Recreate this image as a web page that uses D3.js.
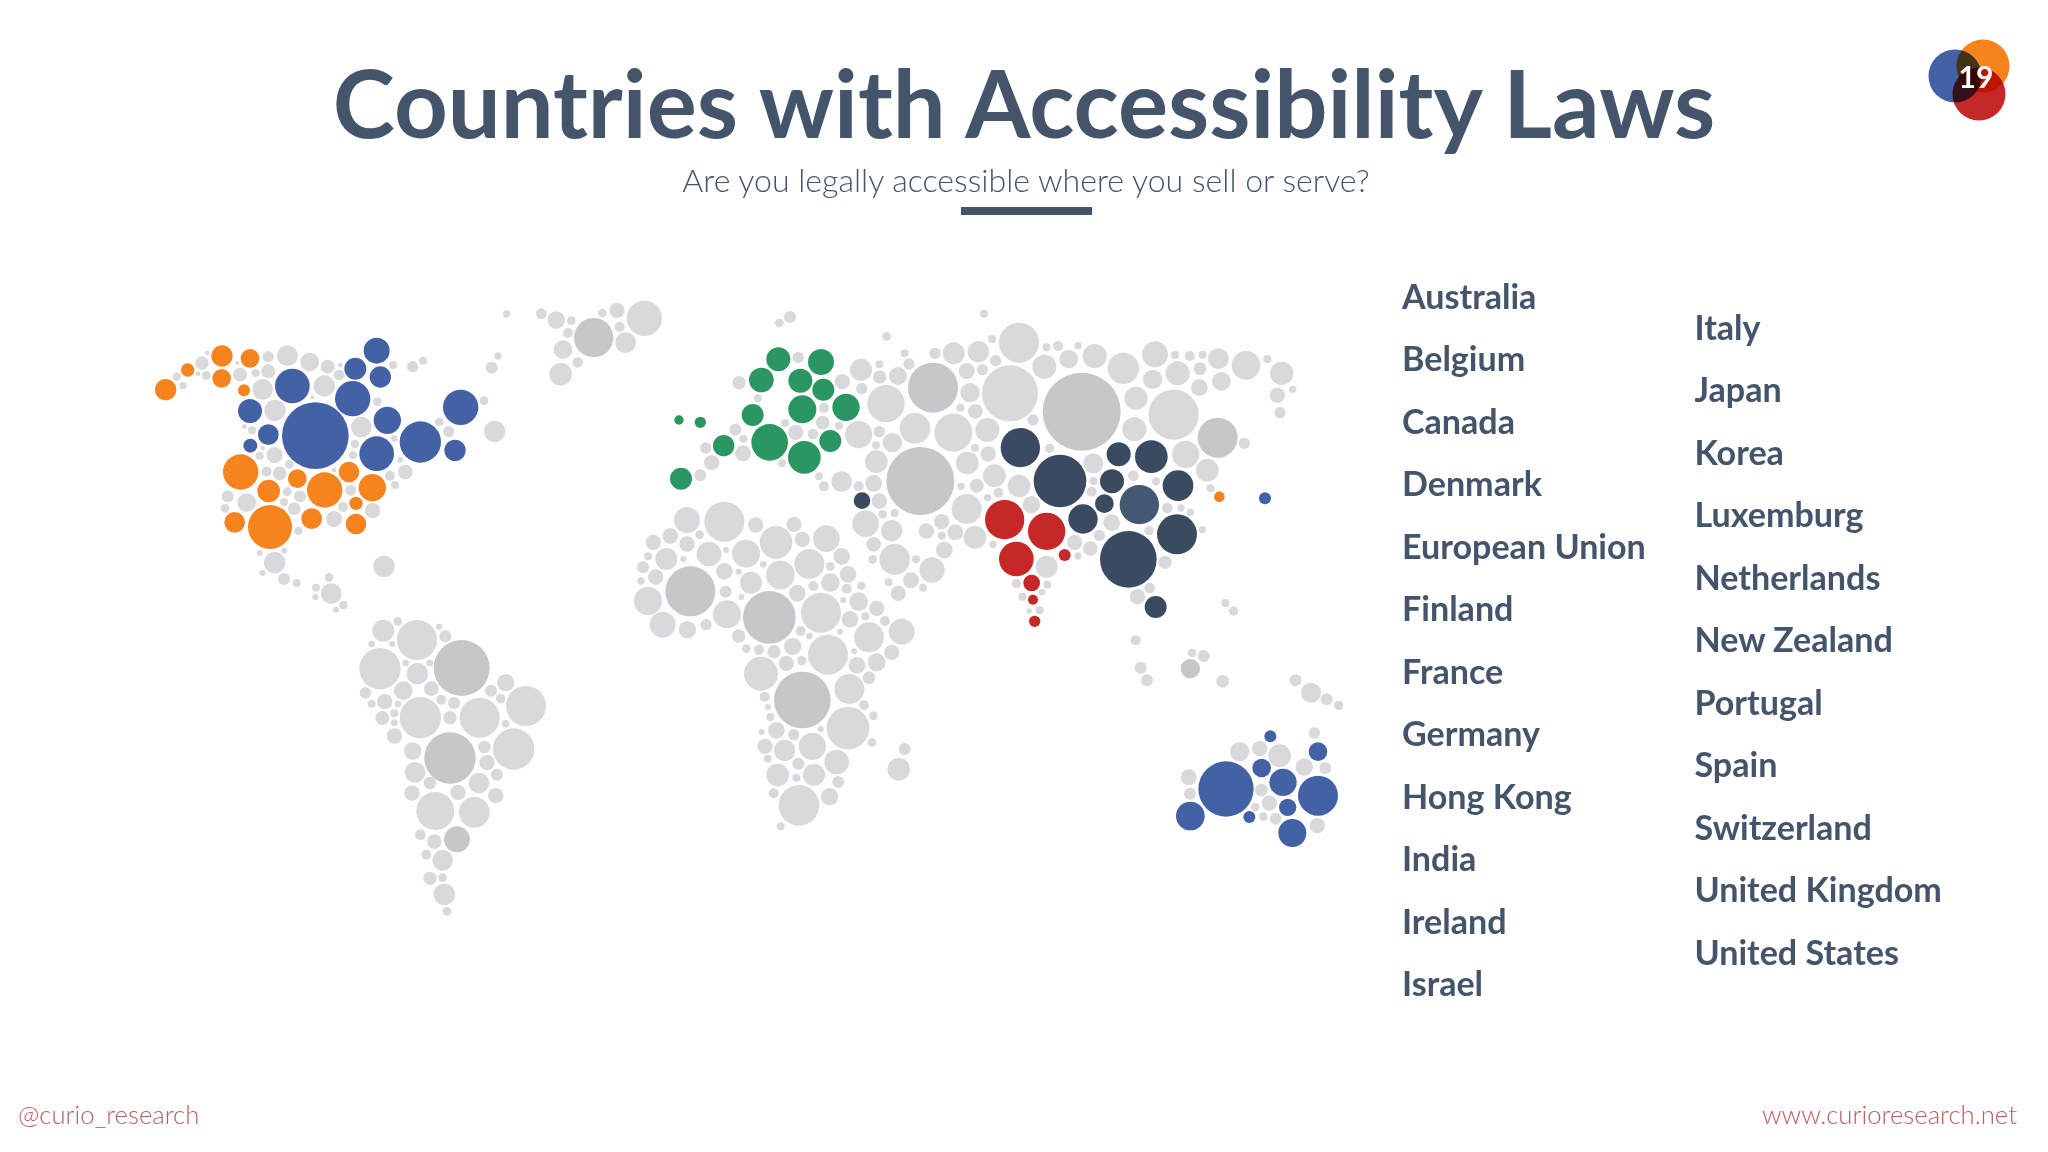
<!DOCTYPE html>
<html>
<head>
<meta charset="utf-8">
<title>Countries with Accessibility Laws</title>
<script src="https://cdn.jsdelivr.net/npm/d3@7"></script>
<style>
html, body { margin: 0; padding: 0; background: #fff; }
svg { display: block; }
text { font-family: Lato, "Open Sans", sans-serif; }
</style>
</head>
<body>
<script>
// bubble values are [x, y, size] in map units, one set of arrays per part of the world
var naOrange = [[107,329,32],[173,270,20],[276,228,32],[360,235,28],[275,295,28],[342,331,18],[332,576,53],[416,633,34],[502,596,28],[584,630,53],[657,576,31],[727,623,41],[678,670,20],[420,741,66],[314,727,31],[545,716,31],[678,732,31]];
var naBlue = [[556,467,100],[487,318,52],[668,356,53],[360,393,36],[415,464,31],[361,497,21],[772,421,41],[740,521,52],[871,486,62],[992,382,53],[975,511,32],[740,212,39],[676,266,33],[751,291,32]];
var naGrey = [[232,219,7],[216,249,20],[140,290,12],[159,317,11],[204,281,7],[229,286,13],[322,249,6],[415,230,17],[472,227,31],[539,246,28],[593,260,21],[631,255,7],[330,284,21],[377,279,12],[415,274,21],[398,328,31],[583,318,32],[627,285,16],[547,352,6],[742,365,13],[435,391,32],[694,441,31],[343,440,7],[366,451,12],[398,504,7],[389,527,12],[434,525,24],[478,553,13],[675,492,12],[669,525,12],[793,476,10],[811,539,9],[612,570,7],[410,575,15],[449,580,21],[472,635,13],[510,649,18],[462,666,12],[493,686,19],[350,668,28],[293,649,18],[285,685,13],[662,631,16],[639,681,15],[612,717,24],[728,692,23],[505,752,12],[780,587,15],[826,576,22],[795,615,12],[789,255,12],[848,260,17],[879,242,12],[928,426,13],[956,455,17],[1062,362,13],[1094,454,32],[1130,102,11],[1104,228,11],[1085,263,18],[389,819,9],[463,812,9],[434,848,32],[398,879,9],[462,897,18],[500,909,12],[762,859,32],[597,892,13],[558,923,12],[604,941,31],[556,951,9],[640,975,12],[618,989,9]];

var greenlandGrey = [[64,71,16],[109,90,26],[154,92,13],[247,69,13],[291,61,23],[373,85,53],[299,110,15],[317,158,31],[144,129,15],[129,179,28],[173,217,16],[122,253,34]];
var greenlandDark = [[221,143,59]];

var euGreen = [[475,238,36],[603,246,39],[424,300,37],[541,302,36],[610,329,33],[547,388,42],[678,382,41],[398,405,33],[449,487,55],[553,532,49],[631,483,33],[311,497,32],[183,596,33],[177,420,14],[241,427,17]];
var euGrey = [[510,111,18],[478,129,13],[800,169,13],[535,232,17],[667,305,23],[357,308,20],[414,355,12],[612,384,15],[608,428,21],[657,437,12],[495,430,12],[527,457,23],[579,462,16],[346,449,18],[370,476,12],[257,504,17],[369,520,24],[275,548,23],[241,586,18],[486,550,12],[597,589,12],[612,619,15],[665,605,31],[723,269,33],[778,253,12],[779,291,20],[834,288,27],[854,220,12],[867,252,17],[725,326,17],[798,371,56],[716,464,41],[778,455,17],[768,496,12],[817,488,29],[769,545,34],[761,610,25],[716,619,15],[778,663,23],[788,703,13],[824,699,12],[737,731,40],[815,752,32],[761,793,22],[758,838,13],[824,838,46],[888,838,12],[806,907,12],[873,901,24],[835,940,23],[909,923,12],[936,870,38],[973,810,25],[919,753,23],[965,767,12],[965,725,23],[1006,757,24]];
var euDark = [[939,323,75],[901,603,102]];
var euNavy = [[726,662,25]];

var asiaGrey = [[372,41,12],[225,160,17],[281,160,33],[355,155,32],[396,117,12],[477,128,60],[407,182,17],[320,213,24],[367,209,17],[450,280,84],[330,278,29],[301,323,12],[346,334,22],[560,142,12],[594,138,15],[654,137,11],[553,200,36],[626,177,28],[704,168,36],[790,205,47],[885,163,39],[945,165,12],[989,168,15],[1028,164,12],[1075,176,31],[1158,196,43],[1222,177,12],[1265,220,35],[1298,268,11],[1252,286,23],[1260,338,17],[953,220,36],[1020,206,19],[1084,244,28],[878,238,29],[1018,263,25],[828,295,35],[941,344,75],[519,360,17],[823,388,36],[1153,430,17],[977,463,41],[1042,511,34],[1052,565,12],[165,385,46],[280,398,57],[382,390,36],[345,443,12],[385,462,23],[322,489,34],[403,527,34],[303,559,11],[350,557,21],[383,593,11],[415,578,15],[477,558,34],[320,627,45],[514,614,26],[569,445,14],[700,490,30],[820,527,16],[700,543,12],[695,575,15],[888,544,12],[922,624,16],[963,624,11],[991,637,11],[755,668,25],[718,706,17],[867,692,14],[1027,689,11],[644,727,23],[691,746,22],[654,768,11],[399,733,11],[345,712,34],[915,787,20],[560,800,33],[469,851,14],[562,854,12],[487,890,12],[546,877,10],[539,931,12],[507,933,8],[869,864,16],[832,890,23],[1096,909,12],[1121,933,14]];
var asiaDark = [[665,335,117],[1073,413,60]];
var asiaNavy = [[481,443,59],[600,543,79],[776,463,36],[874,470,49],[756,544,36],[954,557,46],[733,611,28],[669,657,44],[951,703,60],[805,778,85],[887,921,33]];
var asiaNavyLight = [[838,614,59]];
var asiaRed = [[434,659,59],[560,694,56],[469,777,52],[614,765,18],[515,849,25],[519,899,15],[524,964,17]];
var asiaOrange = [[1078,590,16]];
var asiaBlue = [[1215,595,18]];

var ozGrey = [[107,61,15],[122,143,18],[141,181,18],[276,99,13],[311,108,18],[368,184,19],[586,181,18],[633,218,30],[680,238,18],[716,256,14],[643,339,17],[419,395,29],[479,386,23],[539,407,34],[613,441,26],[676,444,18],[266,472,24],[270,521,18],[484,510,19],[508,549,23],[466,561,13],[490,590,13],[527,596,18],[652,617,23]];
var ozDark = [[271,146,29]];
var ozBlue = [[511,349,18],[654,395,28],[378,507,83],[485,444,28],[549,487,41],[654,527,60],[563,562,26],[271,588,43],[448,591,18],[577,639,42]];

var saGrey = [[10,15,12],[130,92,33],[173,64,13],[231,120,60],[297,80,9],[316,109,18],[95,132,10],[156,132,9],[120,206,62],[197,189,10],[232,221,32],[269,189,10],[190,272,28],[274,266,22],[76,279,17],[95,311,12],[134,305,23],[174,312,10],[304,299,15],[342,309,18],[497,248,26],[453,272,18],[482,296,14],[558,318,60],[241,353,62],[163,340,12],[127,354,21],[163,368,10],[419,353,60],[330,353,20],[497,371,11],[163,408,23],[521,447,62],[433,441,19],[441,488,23],[471,524,18],[218,453,26],[225,517,31],[270,549,19],[417,549,31],[216,579,23],[354,577,23],[467,587,23],[286,633,57],[403,637,46],[241,704,16],[283,725,22],[259,764,15],[308,781,31],[270,835,20],[308,833,13],[313,883,32],[321,934,13]];
var saDark = [[365,204,84],[330,474,77],[351,718,39]];

var afGrey = [[171,90,39],[283,95,60],[377,105,23],[492,103,23],[121,138,23],[70,157,23],[209,134,13],[171,162,23],[438,157,49],[517,148,23],[589,146,40],[237,192,37],[288,180,9],[348,191,42],[109,207,33],[54,199,12],[160,207,9],[635,199,25],[538,222,45],[39,232,18],[77,261,23],[400,223,10],[283,244,25],[326,245,9],[601,229,13],[451,255,43],[654,253,25],[33,273,11],[363,278,33],[550,288,15],[601,278,28],[650,296,15],[694,287,12],[287,305,18],[502,310,25],[334,321,9],[54,333,42],[573,368,60],[640,330,9],[686,335,28],[740,355,23],[291,373,42],[660,388,25],[706,379,12],[765,393,15],[98,404,39],[172,419,26],[228,404,17],[815,425,39],[717,442,45],[512,423,15],[538,438,10],[630,425,9],[326,438,20],[349,476,13],[387,479,15],[432,485,20],[488,469,26],[594,494,60],[672,484,9],[785,487,23],[469,520,23],[515,512,14],[740,517,27],[681,526,25],[393,551,51],[717,563,19],[658,597,45],[404,620,15],[414,651,9],[702,646,15],[421,681,12],[730,677,13],[654,714,64],[572,717,9],[395,726,9],[439,721,25],[491,734,17],[547,769,41],[726,758,13],[405,769,23],[464,781,32],[413,806,12],[620,816,37],[505,821,18],[443,855,34],[552,854,33],[499,863,12],[625,876,18],[431,910,15],[599,920,26],[507,946,61],[452,1009,12],[824,777,18],[806,838,34]];
var afDark = [[181,304,75],[418,382,79],[517,630,85]];

var countriesLeft = ["Australia","Belgium","Canada","Denmark","European Union","Finland","France","Germany","Hong Kong","India","Ireland","Israel"];
var countriesRight = ["Italy","Japan","Korea","Luxemburg","Netherlands","New Zealand","Portugal","Spain","Switzerland","United Kingdom","United States"];

var width = 2048;
var height = 1152;

var grey = "#d9d8dc", darkGrey = "#c7c6ca", blue = "#4362a6", orange = "#f5841f",
    green = "#2a9763", navy = "#3a4a60", navyLight = "#455872", red = "#c52827";
var ink = "#44546a", footer = "#b95f60";

var svg = d3.select("body")
    .append("svg")
    .attr("width", width)
    .attr("height", height)
    .attr("viewBox", "0 0 " + width + " " + height);

svg.append("rect").attr("width", width).attr("height", height).attr("fill", "#fefefe");

// each part of the map has its own origin, map units are a third of a pixel
function region(x0, y0) {
    return {
        x: d3.scaleLinear().domain([0, 3]).range([x0, x0 + 1]),
        y: d3.scaleLinear().domain([0, 3]).range([y0, y0 + 1])
    };
}
var r = d3.scaleLinear().domain([0, 3]).range([0, 1]);

var layers = [
    [naGrey, grey, 130, 280], [naOrange, orange, 130, 280], [naBlue, blue, 130, 280],
    [greenlandGrey, grey, 520, 290], [greenlandDark, darkGrey, 520, 290],
    [euGrey, grey, 620, 280], [euDark, darkGrey, 620, 280], [euGreen, green, 620, 280], [euNavy, navy, 620, 280],
    [asiaGrey, grey, 860, 300], [asiaDark, darkGrey, 860, 300], [asiaNavy, navy, 860, 300],
    [asiaNavyLight, navyLight, 860, 300], [asiaRed, red, 860, 300], [asiaOrange, orange, 860, 300], [asiaBlue, blue, 860, 300],
    [ozGrey, grey, 1100, 620], [ozDark, darkGrey, 1100, 620], [ozBlue, blue, 1100, 620],
    [saGrey, grey, 340, 600], [saDark, darkGrey, 340, 600],
    [afGrey, grey, 630, 490], [afDark, darkGrey, 630, 490]
];

layers.forEach(function(layer) {
    var s = region(layer[2], layer[3]);
    svg.append("g")
        .selectAll("circle")
        .data(layer[0])
        .enter()
        .append("circle")
        .attr("cx", function(d) { return s.x(d[0]); })
        .attr("cy", function(d) { return s.y(d[1]); })
        .attr("r", function(d) { return r(d[2]); })
        .attr("fill", layer[1]);
});

// header
svg.append("text")
    .attr("x", 1024).attr("y", 138)
    .attr("text-anchor", "middle")
    .attr("font-size", 93.8).attr("font-weight", 700)
    .attr("fill", ink)
    .text("Countries with Accessibility Laws");

svg.append("text")
    .attr("x", 1026).attr("y", 192)
    .attr("text-anchor", "middle")
    .attr("font-size", 32.1).attr("font-weight", 300)
    .attr("fill", ink)
    .text("Are you legally accessible where you sell or serve?");

svg.append("rect")
    .attr("x", 961).attr("y", 207)
    .attr("width", 131).attr("height", 8)
    .attr("fill", ink);

// country lists
var listStep = 62.46;
function drawList(names, x, y0) {
    var y = d3.scalePoint()
        .domain(names)
        .range([y0, y0 + listStep * (names.length - 1)]);
    svg.append("g")
        .selectAll("text")
        .data(names)
        .enter()
        .append("text")
        .attr("x", x)
        .attr("y", function(d) { return y(d); })
        .attr("font-size", 34.1).attr("font-weight", 700)
        .attr("fill", ink)
        .text(function(d) { return d; });
}
drawList(countriesLeft, 1402, 309);
drawList(countriesRight, 1694.5, 340);

// footer
svg.append("text")
    .attr("x", 18).attr("y", 1124)
    .attr("font-size", 25.7).attr("font-weight", 300)
    .attr("fill", footer)
    .text("@curio_research");

svg.append("text")
    .attr("x", 2017).attr("y", 1124)
    .attr("text-anchor", "end")
    .attr("font-size", 25.7).attr("font-weight", 300)
    .attr("fill", footer)
    .text("www.curioresearch.net");

// logo
var logo = svg.append("g").style("isolation", "isolate");
[[blue, 1955, 76], [orange, 1983, 66], [red, 1979, 94]].forEach(function(c) {
    logo.append("circle")
        .attr("cx", c[1]).attr("cy", c[2]).attr("r", 26.5)
        .attr("fill", c[0])
        .style("mix-blend-mode", "multiply");
});
svg.append("text")
    .attr("x", 1976).attr("y", 88)
    .attr("text-anchor", "middle")
    .attr("font-size", 30).attr("font-weight", 700)
    .attr("fill", "#fff")
    .text("19");
</script>
</body>
</html>
